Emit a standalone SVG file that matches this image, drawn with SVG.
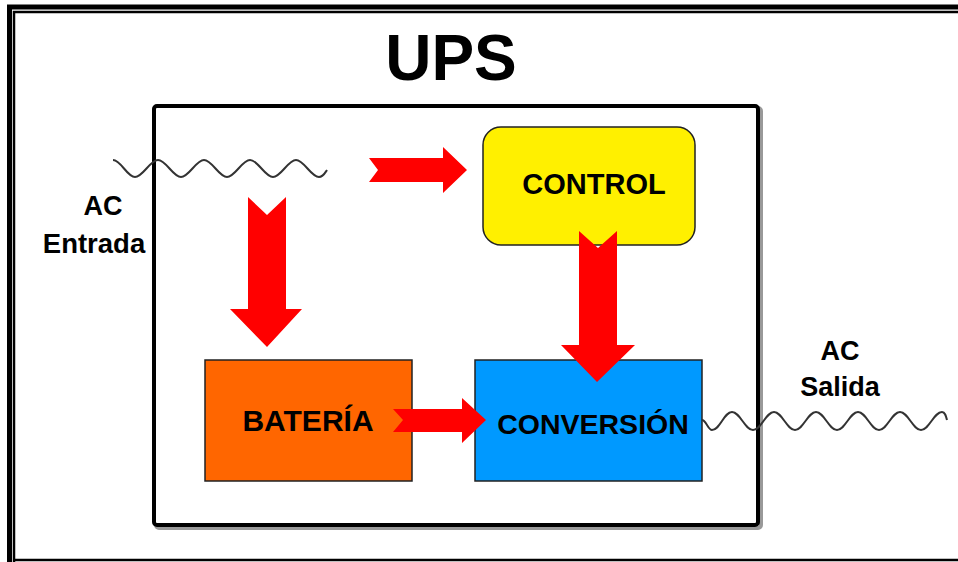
<svg xmlns="http://www.w3.org/2000/svg" width="958" height="562" viewBox="0 0 958 562">
<defs>
<style>
.t{font-family:"Liberation Sans",Arial,sans-serif;font-weight:bold;fill:#000;text-anchor:middle}
.arr{fill:#FF0000}
.wave{fill:none;stroke:#333;stroke-width:2}
.box{stroke:#222;stroke-width:1.5}
</style>
</defs>
<rect width="958" height="562" fill="#fff"/>
<!-- frame -->
<path d="M9.5,562 V7 H958" fill="none" stroke="#000" stroke-width="5"/>
<path d="M14,562 V12 H958 M14,560 H958" fill="none" stroke="#000" stroke-width="2.5"/>
<!-- title -->
<text class="t" x="451" y="80" font-size="64">UPS</text>
<!-- main box -->
<g id="ups-box">
<rect x="156" y="108" width="605" height="420" rx="3" fill="none" stroke="#999" stroke-width="4"/>
<rect x="154" y="106" width="604" height="419" rx="3" fill="#fff" stroke="#000" stroke-width="4"/>
</g>
<g id="control">
<rect class="box" x="483" y="127" width="212" height="118" rx="18" fill="#FFF000"/>
<text class="t" x="594" y="194" font-size="29">CONTROL</text>
</g>
<g id="bateria">
<rect class="box" x="205" y="360" width="207" height="121" fill="#FF6600"/>
<text class="t" x="308" y="431" font-size="30">BATERÍA</text>
</g>
<g id="conversion">
<rect class="box" x="475" y="360" width="227" height="121" fill="#0099FF"/>
<text class="t" x="593" y="434" font-size="28.5">CONVERSIÓN</text>
</g>
<g id="ac-entrada">
<path class="wave" d="M113,160 C121,160 127,177 135,177 C143,177 150,160 158,160 C166,160 173,177 181,177 C189,177 196,160 204,160 C212,160 219,177 227,177 C235,177 242,160 250,160 C258,160 265,177 273,177 C281,177 288,160 296,160 C304,160 311,177 319,177 C323,177 325,173 327,170"/>
<text class="t" x="103" y="215" font-size="27">AC</text>
<text class="t" x="94" y="253" font-size="27.5">Entrada</text>
</g>
<g id="ac-salida">
<path class="wave" d="M702,420 C706,420 708,430 712,430 C720,430 724,412 732,412 C740,412 745,430 753,430 C761,430 766,412 774,412 C782,412 787,430 795,430 C803,430 808,412 816,412 C824,412 829,430 837,430 C845,430 850,412 858,412 C866,412 871,430 879,430 C887,430 892,412 900,412 C908,412 913,430 921,430 C929,430 934,412 942,412 C945,412 946,416 947,420"/>
<text class="t" x="840" y="360" font-size="27">AC</text>
<text class="t" x="840" y="396" font-size="27">Salida</text>
</g>
<g id="connectors">
<path class="arr" d="M369,158 L443,158 L443,147 L467,170 L443,193 L443,182 L369,182 L378,170 Z"/>
<path class="arr" d="M248,197 L267,215 L286,197 L286,309 L302,309 L267,347 L230,309 L248,309 Z"/>
<path class="arr" d="M579,231 L598,248 L617,231 L617,345 L635,345 L597,382 L561,345 L579,345 Z"/>
<path class="arr" d="M393,409 L462,409 L462,398 L486,420 L462,443 L462,432 L393,432 L403,420 Z"/>
</g>
</svg>
